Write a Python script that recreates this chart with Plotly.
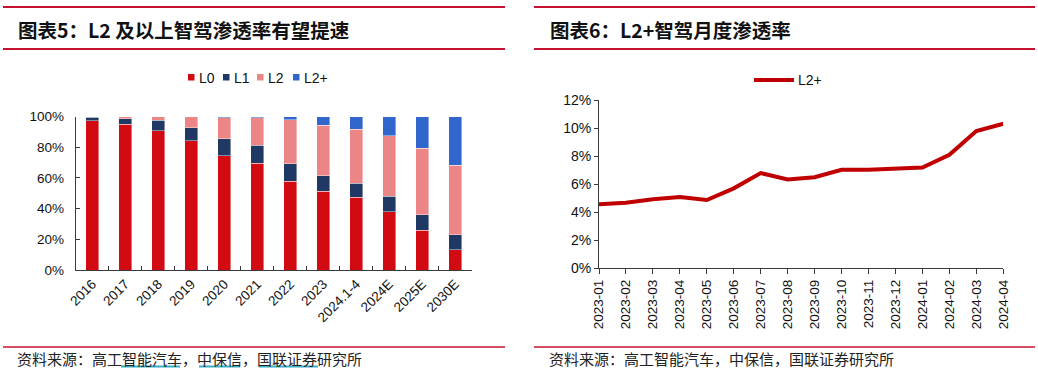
import plotly.graph_objects as go

W, H = 1038, 373

# ---------------- data ----------------
years = ["2016", "2017", "2018", "2019", "2020", "2021", "2022", "2023",
         "2024.1-4", "2024E", "2025E", "2030E"]
l0 = [97.2, 94.8, 90.8, 84.2, 74.5, 69.4, 57.9, 51.3, 47.4, 38.0, 26.0, 13.1]
l1 = [2.3, 3.7, 6.6, 8.6, 10.9, 12.0, 11.3, 10.1, 9.2, 10.0, 10.0, 10.0]
l2 = [0.5, 1.5, 2.6, 7.2, 13.9, 17.7, 28.6, 32.9, 35.1, 39.3, 43.3, 45.0]
l2p = [0.0, 0.0, 0.0, 0.0, 0.7, 0.9, 2.2, 5.7, 8.3, 12.7, 20.7, 31.9]
pct_ticks = [0, 20, 40, 60, 80, 100]
pct_labels = ["0%", "20%", "40%", "60%", "80%", "100%"]

months = ["2023-01", "2023-02", "2023-03", "2023-04", "2023-05", "2023-06",
          "2023-07", "2023-08", "2023-09", "2023-10", "2023-11", "2023-12",
          "2024-01", "2024-02", "2024-03", "2024-04"]
l2p_month = [0.0456, 0.0468, 0.0493, 0.0508, 0.0487, 0.0570, 0.0679, 0.0634,
             0.0649, 0.0703, 0.0703, 0.0708, 0.0718, 0.0810, 0.0979, 0.1031]

series_names = ["L0", "L1", "L2", "L2+"]
series_colors = ["#D20A11", "#1F3864", "#EC8686", "#3166CC"]
line_color = "#C00000"

title_left = "图表5：L2 及以上智驾渗透率有望提速"
title_right = "图表6：L2+智驾月度渗透率"
source_text = "资料来源：高工智能汽车，中保信，国联证券研究所"

# ---------------- helpers ----------------
def px(x):
    return x / W

def py(y):
    return 1 - y / H

RED = "#C5132F"
AX = "#3a3a3a"
TICKFONT = dict(family="Liberation Sans, Arial", size=13.5, color="#111")
CJK = "Noto Sans CJK SC"

fig = go.Figure()

for name, vals, col in zip(series_names, [l0, l1, l2, l2p], series_colors):
    fig.add_trace(go.Bar(
        x=years, y=vals, name=name, marker_color=col,
        marker_line=dict(color="rgba(255,255,255,0.7)", width=0.6),
        xaxis="x", yaxis="y", showlegend=False,
    ))

fig.add_trace(go.Scatter(
    x=months, y=l2p_month, name="L2+", mode="lines",
    line=dict(color=line_color, width=4),
    xaxis="x2", yaxis="y2", showlegend=False,
))

shapes = []
annotations = []

# header / footer rules
for (x0, x1) in [(3, 505), (534, 1035)]:
    for y in [7, 49]:
        shapes.append(dict(type="line", xref="paper", yref="paper",
                           x0=px(x0), x1=px(x1), y0=py(y), y1=py(y),
                           line=dict(color=RED, width=2)))
shapes.append(dict(type="line", xref="paper", yref="paper",
                   x0=px(3), x1=px(505), y0=py(347), y1=py(347),
                   line=dict(color=RED, width=1.5)))
shapes.append(dict(type="line", xref="paper", yref="paper",
                   x0=px(534), x1=px(1035), y0=py(347), y1=py(347),
                   line=dict(color=RED, width=1.5)))

# underlines in left footer
for (x0, x1) in [(121, 180), (199, 240), (259, 318)]:
    shapes.append(dict(type="line", xref="paper", yref="paper",
                       x0=px(x0), x1=px(x1), y0=py(366.5), y1=py(366.5),
                       line=dict(color="#36AEC6", width=2)))

# titles
for txt, x in [(title_left, 16), (title_right, 548)]:
    annotations.append(dict(text="<b>" + txt + "</b>", xref="paper", yref="paper",
                            x=px(x), y=py(29), xanchor="left", yanchor="middle",
                            showarrow=False,
                            font=dict(family=CJK, size=19.5, color="#111")))
# sources
for x in [15, 547]:
    annotations.append(dict(text=source_text, xref="paper", yref="paper",
                            x=px(x), y=py(358), xanchor="left", yanchor="middle",
                            showarrow=False,
                            font=dict(family=CJK, size=15, color="#222")))

# left legend (squares + text)
leg_x = [188, 223, 257, 293]
for name, col, lx in zip(series_names, series_colors, leg_x):
    shapes.append(dict(type="rect", xref="paper", yref="paper",
                       x0=px(lx), x1=px(lx + 6.5), y0=py(80.5), y1=py(74),
                       fillcolor=col, line=dict(width=0)))
    annotations.append(dict(text=name, xref="paper", yref="paper",
                            x=px(lx + 9), y=py(77.5), xanchor="left", yanchor="middle",
                            showarrow=False,
                            font=dict(family="Liberation Sans, Arial", size=14, color="#111")))

# right legend (line + text)
shapes.append(dict(type="line", xref="paper", yref="paper",
                   x0=px(754), x1=px(794), y0=py(80), y1=py(80),
                   line=dict(color=line_color, width=4)))
annotations.append(dict(text="L2+", xref="paper", yref="paper",
                        x=px(796), y=py(80), xanchor="left", yanchor="middle",
                        showarrow=False,
                        font=dict(family="Liberation Sans, Arial", size=14, color="#111")))

fig.update_layout(
    width=W, height=H,
    margin=dict(l=0, r=0, t=0, b=0, autoexpand=False),
    paper_bgcolor="white", plot_bgcolor="white",
    barmode="stack", bargap=0.6,
    showlegend=False,
    shapes=shapes, annotations=annotations,
    xaxis=dict(
        domain=[px(75.7), px(471.7)], anchor="y", type="category",
        showline=True, linecolor=AX, linewidth=1, automargin=False,
        ticks="inside", tickson="boundaries", ticklen=4, tickcolor=AX,
        tickangle=-45, tickfont=TICKFONT, showgrid=False, zeroline=False,
    ),
    yaxis=dict(
        domain=[py(270), py(116.5)], anchor="x", range=[0, 100],
        tickmode="array", tickvals=pct_ticks, ticktext=pct_labels,
        showline=True, linecolor=AX, linewidth=1, automargin=False,
        ticks="inside", ticklen=4, tickcolor=AX, ticklabelstandoff=8,
        tickfont=TICKFONT, showgrid=False, zeroline=False,
    ),
    xaxis2=dict(
        domain=[px(599), px(1003.3)], anchor="y2", type="category",
        range=[0, 15], automargin=False,
        showline=True, linecolor=AX, linewidth=1,
        ticks="outside", ticklen=5, tickcolor=AX,
        tickangle=-90, tickfont=TICKFONT, showgrid=False, zeroline=False,
    ),
    yaxis2=dict(
        domain=[py(268.3), py(100)], anchor="x2", range=[0, 0.12],
        dtick=0.02, tickformat=".0%", automargin=False,
        showline=True, linecolor=AX, linewidth=1,
        ticks="outside", ticklen=4, tickcolor=AX,
        tickfont=dict(family="Liberation Sans, Arial", size=14, color="#111"),
        showgrid=False, zeroline=False,
    ),
)

fig.write_html(
    "out.html",
    config={"displayModeBar": False},
    post_script="document.body.style.margin='0';document.body.style.overflow='hidden';",
)
